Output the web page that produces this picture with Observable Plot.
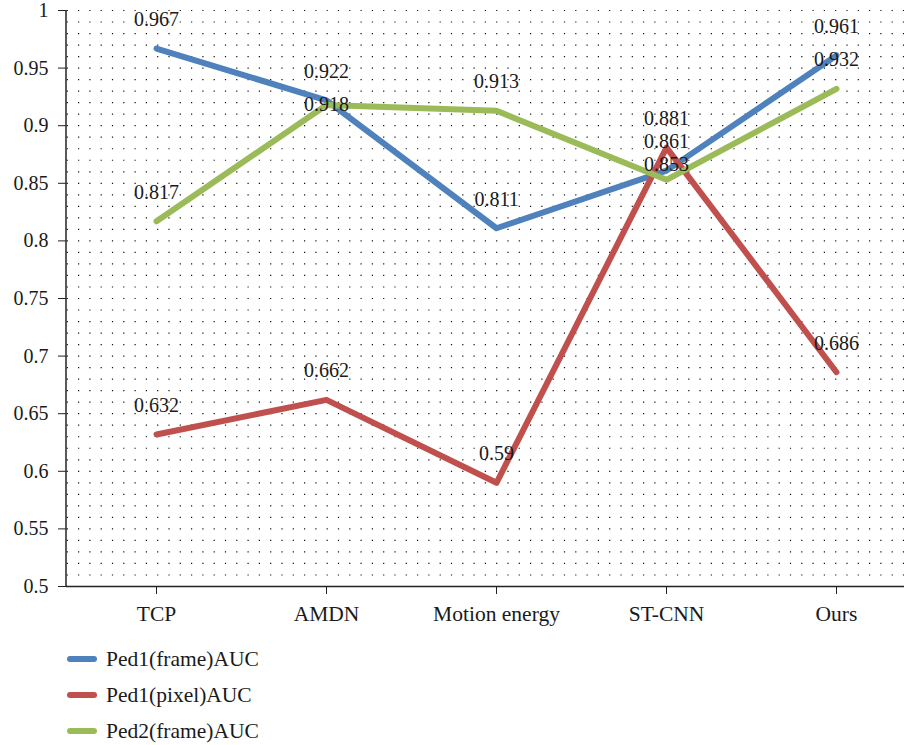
<!DOCTYPE html>
<html>
<head>
<meta charset="utf-8">
<script src="https://cdn.jsdelivr.net/npm/d3@7"></script>
<script src="https://cdn.jsdelivr.net/npm/@observablehq/plot@0.6"></script>
<style>
  html, body { margin: 0; padding: 0; background: #fff; }
  #chart { width: 904px; }
  #chart svg text { font-family: "Liberation Serif", "DejaVu Serif", serif; }
  .legend { margin: 0; padding: 0; font-family: "Liberation Serif", "DejaVu Serif", serif; font-size: 21.5px; color: #1a1a1a; }
  .legend .row { height: 36px; display: flex; align-items: center; }
  .legend .swatch { width: 30px; height: 6px; border-radius: 3px; margin-left: 67px; margin-right: 9px; }
</style>
</head>
<body>
<div id="chart"></div>
<script>
// Methods compared on the x axis
const categories = ["TCP", "AMDN", "Motion energy", "ST-CNN", "Ours"];

// AUC per method, one array per series
const ped1Frame = [0.967, 0.922, 0.811, 0.861, 0.961];
const ped1Pixel = [0.632, 0.662, 0.59, 0.881, 0.686];
const ped2Frame = [0.817, 0.918, 0.913, 0.853, 0.932];

const seriesNames = ["Ped1(frame)AUC", "Ped1(pixel)AUC", "Ped2(frame)AUC"];
const seriesColors = ["#4F81BD", "#C0504D", "#9BBB59"];

// Y axis tick values
const yTicks = [0.5, 0.55, 0.6, 0.65, 0.7, 0.75, 0.8, 0.85, 0.9, 0.95, 1];

// Long-format table built from the arrays above
const seriesValues = [ped1Frame, ped1Pixel, ped2Frame];
const rows = [];
seriesValues.forEach((vals, s) => {
  vals.forEach((v, i) => rows.push({ series: seriesNames[s], method: categories[i], auc: v }));
});

// Label nudges where value labels would collide
const defaultDy = -29;
const labelDy = { "Ped2(frame)AUC|AMDN": 0, "Ped2(frame)AUC|ST-CNN": -15 };
const dyFor = d => (labelDy[d.series + "|" + d.method] ?? defaultDy);
const dyGroups = Array.from(new Set(rows.map(dyFor)));

// Dotted background grid every 0.01
const gridLevels = d3.range(51, 101).map(k => k / 100);

const font = "'Liberation Serif', 'DejaVu Serif', serif";

// Vertical axis line along the left edge of the plot area
const leftAxisLine = (index, scales, values, dims) => {
  const line = document.createElementNS("http://www.w3.org/2000/svg", "line");
  line.setAttribute("x1", dims.marginLeft);
  line.setAttribute("x2", dims.marginLeft);
  line.setAttribute("y1", dims.marginTop);
  line.setAttribute("y2", dims.height - dims.marginBottom);
  line.setAttribute("stroke", "#222");
  line.setAttribute("stroke-width", 1.5);
  return line;
};

const chart = Plot.plot({
  width: 904,
  height: 641,
  marginTop: 10,
  marginBottom: 55,
  marginLeft: 66,
  marginRight: 0,
  style: { fontFamily: font, fontSize: "20px", color: "#1a1a1a", background: "#fff" },
  x: { type: "point", domain: categories, range: [155.7, 835.7], padding: 0, label: null },
  y: { domain: [0.5, 1], label: null },
  color: { domain: seriesNames, range: seriesColors },
  marks: [
    Plot.ruleY(gridLevels, { stroke: "#111", strokeWidth: 1.2, strokeDasharray: "1.2,10.1", strokeDashoffset: -12 }),
    Plot.axisY({ ticks: yTicks, tickSize: 8, tickPadding: 10, tickFormat: d => String(+d.toFixed(2)), stroke: "#222", fontSize: 20, label: null }),
    Plot.axisX({ tickSize: 8, tickPadding: 11, stroke: "#222", fontSize: 21.5, label: null }),
    Plot.ruleY([0.5], { stroke: "#222", strokeWidth: 1.5 }),
    leftAxisLine,
    Plot.line(rows, { x: "method", y: "auc", z: "series", stroke: "series", strokeWidth: 6, strokeLinecap: "round", strokeLinejoin: "round" }),
    ...dyGroups.map(dy =>
      Plot.text(rows.filter(d => dyFor(d) === dy), {
        x: "method", y: "auc", text: d => String(d.auc), dy, fontSize: 20, fill: "#1a1a1a"
      })
    )
  ]
});

const root = document.getElementById("chart");
root.appendChild(chart);

// Legend below the plot
const legend = document.createElement("div");
legend.className = "legend";
seriesNames.forEach((name, i) => {
  const row = document.createElement("div");
  row.className = "row";
  const sw = document.createElement("span");
  sw.className = "swatch";
  sw.style.background = seriesColors[i];
  const label = document.createElement("span");
  label.textContent = name;
  row.appendChild(sw);
  row.appendChild(label);
  legend.appendChild(row);
});
root.appendChild(legend);
</script>
</body>
</html>
